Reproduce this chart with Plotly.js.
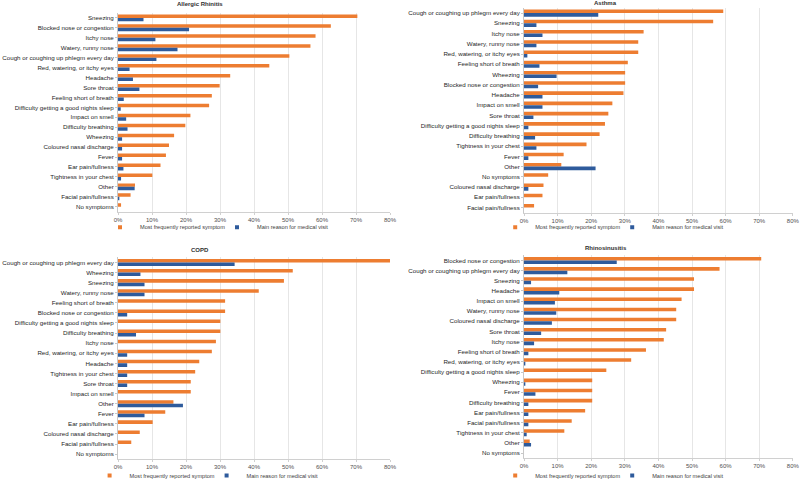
<!DOCTYPE html>
<html>
<head>
<meta charset="utf-8">
<script src="https://cdn.plot.ly/plotly-3.0.1.min.js"></script>
<style>
  body { margin: 0; background: #fff; }
  #chart { width: 800px; height: 490px; }
</style>
</head>
<body>
<div id="chart"></div>
<script>
// symptom labels and shares per condition
var arLabels = ["Sneezing", "Blocked nose or congestion", "Itchy nose", "Watery, runny nose",
  "Cough or coughing up phlegm every day", "Red, watering, or itchy eyes", "Headache", "Sore throat",
  "Feeling short of breath", "Difficulty getting a good nights sleep", "Impact on smell",
  "Difficulty breathing", "Wheezing", "Coloured nasal discharge", "Fever", "Ear pain/fullness",
  "Tightness in your chest", "Other", "Facial pain/fullness", "No symptoms"];
var arMost = [70.4, 62.6, 58.1, 56.6, 50.4, 44.5, 33.0, 29.9, 27.6, 26.8, 21.3, 19.8, 16.5, 15.0, 14.1, 12.5, 10.1, 5.0, 3.7, 0.9];
var arMain = [7.5, 20.9, 11.0, 17.5, 11.3, 3.4, 4.4, 6.3, 1.7, 0.8, 2.4, 2.8, 1.2, 1.2, 1.2, 1.6, 0.9, 4.9, 0.4, 0];

var asLabels = ["Cough or coughing up phlegm every day", "Sneezing", "Itchy nose", "Watery, runny nose",
  "Red, watering, or itchy eyes", "Feeling short of breath", "Wheezing", "Blocked nose or congestion",
  "Headache", "Impact on smell", "Sore throat", "Difficulty getting a good nights sleep",
  "Difficulty breathing", "Tightness in your chest", "Fever", "Other", "No symptoms",
  "Coloured nasal discharge", "Ear pain/fullness", "Facial pain/fullness"];
var asMost = [59.3, 56.3, 35.6, 34.0, 34.0, 30.9, 30.1, 30.1, 29.6, 26.3, 25.1, 24.1, 22.5, 18.6, 11.8, 11.1, 7.2, 5.8, 5.5, 3.0];
var asMain = [22.1, 3.7, 5.5, 3.7, 1.0, 4.6, 9.7, 4.2, 5.5, 5.5, 2.8, 1.3, 3.3, 3.7, 1.3, 21.3, 0, 1.3, 0, 0];

var copdLabels = ["Cough or coughing up phlegm every day", "Wheezing", "Sneezing", "Watery, runny nose",
  "Feeling short of breath", "Blocked nose or congestion", "Difficulty getting a good nights sleep",
  "Difficulty breathing", "Itchy nose", "Red, watering, or itchy eyes", "Headache",
  "Tightness in your chest", "Sore throat", "Impact on smell", "Other", "Fever", "Ear pain/fullness",
  "Coloured nasal discharge", "Facial pain/fullness", "No symptoms"];
var copdMost = [80.0, 51.4, 48.8, 41.4, 31.5, 31.5, 30.1, 30.1, 28.8, 27.6, 23.9, 22.7, 21.4, 21.4, 16.3, 13.9, 10.2, 6.4, 3.9, 0];
var copdMain = [34.3, 6.6, 7.8, 7.8, 0, 2.7, 0, 5.3, 0, 2.7, 2.7, 2.7, 2.7, 0, 19.1, 7.8, 0, 0, 0, 0];

var rsLabels = ["Blocked nose or congestion", "Cough or coughing up phlegm every day", "Sneezing", "Headache",
  "Impact on smell", "Watery, runny nose", "Coloured nasal discharge", "Sore throat", "Itchy nose",
  "Feeling short of breath", "Red, watering, or itchy eyes", "Difficulty getting a good nights sleep",
  "Wheezing", "Fever", "Difficulty breathing", "Ear pain/fullness", "Facial pain/fullness",
  "Tightness in your chest", "Other", "No symptoms"];
var rsMost = [70.6, 58.2, 50.6, 50.6, 46.9, 45.3, 45.3, 42.3, 41.6, 36.3, 31.9, 24.5, 20.3, 20.3, 20.3, 18.2, 14.2, 12.0, 1.7, 0];
var rsMain = [27.6, 12.9, 2.1, 10.5, 9.2, 9.6, 8.3, 5.1, 3.0, 1.3, 0.4, 0, 0.4, 3.4, 1.3, 1.3, 1.3, 0.8, 2.1, 0];

var panelTitles = ["Allergic Rhinitis", "Asthma", "COPD", "Rhinosinusitis"];
var seriesNames = ["Most frequently reported symptom", "Main reason for medical visit"];

var orange = "#ED7D31";
var blue = "#2E5B9C";
var font = "'Liberation Sans', Arial, sans-serif";

var panels = [
  {labels: arLabels, most: arMost, main: arMain},
  {labels: asLabels, most: asMost, main: asMain},
  {labels: copdLabels, most: copdMost, main: copdMain},
  {labels: rsLabels, most: rsMost, main: rsMain}
];

var data = [];
panels.forEach(function(p, i) {
  var n = i == 0 ? "" : String(i + 1);
  var lg = "legend" + n;
  data.push({
    type: "bar", orientation: "h", name: seriesNames[0],
    y: p.labels, x: p.most.map(v => v / 100),
    xaxis: "x" + n, yaxis: "y" + n, showlegend: false,
    marker: {color: orange}
  });
  data.push({
    type: "bar", orientation: "h", name: seriesNames[1],
    y: p.labels, x: p.main.map(v => v / 100),
    xaxis: "x" + n, yaxis: "y" + n, showlegend: false,
    marker: {color: blue}
  });
  // small square keys for the legend (bar keys are too big)
  [orange, blue].forEach(function(c, k) {
    data.push({
      type: "scatter", mode: "markers", name: seriesNames[k],
      x: [null], y: [null], xaxis: "x" + n, yaxis: "y" + n, legend: lg,
      marker: {color: c, symbol: "square", size: 4}
    });
  });
});

// plot area positions in paper units
var xDom = [[0.1475, 0.4875], [0.655, 0.991], [0.1475, 0.4875], [0.655, 0.991]];
var yDom = [[0.5653, 0.9735], [0.5633, 0.9837], [0.0571, 0.4714], [0.0592, 0.4755]];

var layout = {
  width: 800, height: 490,
  margin: {l: 0, r: 0, t: 0, b: 0},
  paper_bgcolor: "#fff", plot_bgcolor: "#fff",
  barmode: "group", bargap: 0.3, bargroupgap: 0,
  font: {family: font, size: 6, color: "#404040"},
  annotations: [],
  showlegend: true
};

var titlePos = [[0.25, 0.992], [0.757, 0.994], [0.25, 0.486], [0.757, 0.49]];
var legendPos = [[0.125, 0.5335], [0.619, 0.5335], [0.112, 0.023], [0.619, 0.023]];

panelTitles.forEach(function(t, i) {
  var n = i == 0 ? "" : String(i + 1);
  layout["xaxis" + n] = {
    domain: xDom[i], anchor: "y" + n, range: [0, 0.8], dtick: 0.1, tickformat: ".0%",
    showgrid: true, gridcolor: "#e6e6e6", gridwidth: 1, zeroline: false,
    showline: true, linecolor: "#d0d0d0", ticks: "outside", ticklen: 2, tickcolor: "#d0d0d0",
    tickfont: {size: 6, color: "#505050"}, fixedrange: true
  };
  layout["yaxis" + n] = {
    domain: yDom[i], anchor: "x" + n, autorange: "reversed", type: "category",
    tickmode: "linear", tick0: 0, dtick: 1,
    showline: true, linecolor: "#c8c8c8", ticks: "outside", ticklen: 2, tickcolor: "#c8c8c8",
    tickfont: {size: 6.2, color: "#262626"}, automargin: false, fixedrange: true
  };
  layout["legend" + n] = {
    orientation: "h", x: legendPos[i][0], y: legendPos[i][1], xanchor: "left", yanchor: "middle",
    font: {size: 5.6, color: "#404040"}, itemwidth: 30, tracegroupgap: 0,
    entrywidth: 72, entrywidthmode: "pixels",
    bgcolor: "rgba(0,0,0,0)", traceorder: "normal"
  };
  layout.annotations.push({
    text: "<b>" + t + "</b>", xref: "paper", yref: "paper",
    x: titlePos[i][0], y: titlePos[i][1], xanchor: "center", yanchor: "middle",
    showarrow: false, font: {size: 6, color: "#303030"}
  });
});

Plotly.newPlot("chart", data, layout, {displayModeBar: false, staticPlot: true});
</script>
</body>
</html>
